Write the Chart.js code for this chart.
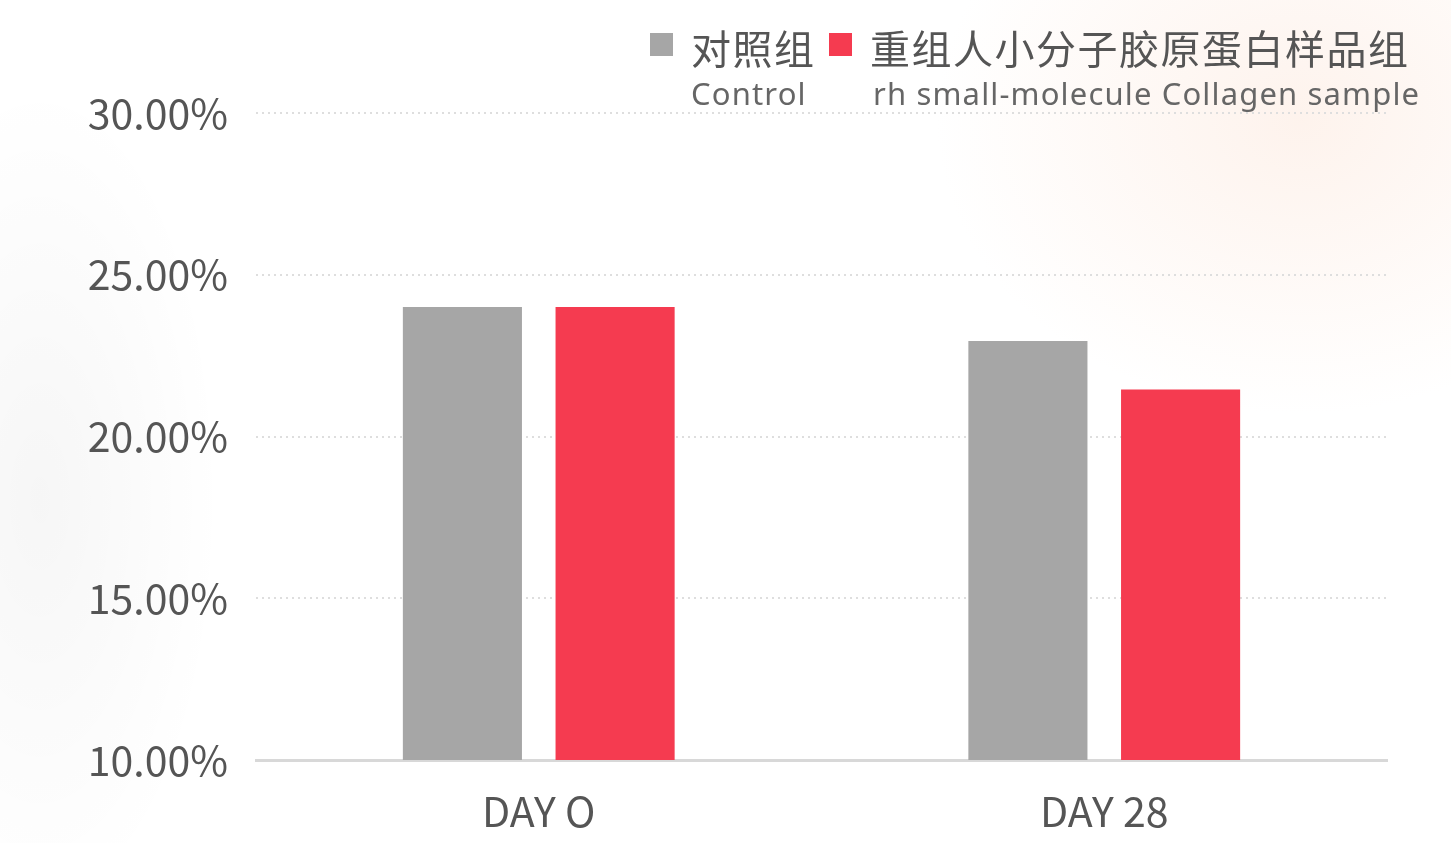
<!DOCTYPE html>
<html>
<head>
<meta charset="utf-8">
<script src="https://cdn.jsdelivr.net/npm/chart.js@4.4.1/dist/chart.umd.min.js"></script>
<style>
  html, body { margin: 0; padding: 0; }
  body {
    width: 1451px; height: 843px; overflow: hidden; position: relative;
    background:
      radial-gradient(ellipse 520px 420px at 1300px 120px, rgba(252, 228, 214, 0.45), rgba(255,255,255,0) 70%),
      radial-gradient(ellipse 260px 600px at 40px 500px, rgba(0, 0, 0, 0.035), rgba(255,255,255,0) 70%),
      #ffffff;
  }
  #wrap { position: absolute; left: 0; top: 0; width: 1451px; height: 843px; }
  .box { position: absolute; width: 23px; height: 23px; top: 33px; }
  .zh { position: absolute; top: 27px; font-family: "Noto Sans CJK SC", sans-serif; font-size: 40px; line-height: 40px; letter-spacing: 1.5px; color: #555; white-space: nowrap; }
  .en { position: absolute; top: 75px; font-family: "Noto Sans", sans-serif; font-size: 31px; line-height: 36px; letter-spacing: 1.15px; color: #666; white-space: nowrap; }
</style>
</head>
<body>
<div id="wrap"><canvas id="myChart"></canvas></div>

<div class="box" style="left:650px;background:#a6a6a6"></div>
<div class="zh" style="left:691px">对照组</div>
<div class="en" style="left:691px">Control</div>
<div class="box" style="left:829px;background:#f53b50"></div>
<div class="zh" style="left:870px">重组人小分子胶原蛋白样品组</div>
<div class="en" style="left:873px">rh small-molecule Collagen sample</div>

<script>
var days = ['DAY O', 'DAY 28'];
var control_values = [24.0, 22.95];
var sample_values = [24.0, 21.45];
var y_ticks_min = 10;
var y_ticks_max = 30;
var y_step = 5;
var barColors = ['#a6a6a6', '#f53b50'];

var chart_image = document.getElementById('myChart');
var collagen_chart = new Chart(chart_image, {
  type: 'bar',
  data: {
    labels: days,
    datasets: [{
      label: '对照组 Control',
      backgroundColor: barColors[0],
      data: control_values
    }, {
      label: '重组人小分子胶原蛋白样品组 rh small-molecule Collagen sample',
      backgroundColor: barColors[1],
      data: sample_values
    }]
  },
  options: {
    responsive: true,
    maintainAspectRatio: false,
    animation: false,
    layout: { padding: { left: 0, right: 64, top: 113, bottom: 0 } },
    datasets: {
      bar: { categoryPercentage: 0.54, barPercentage: 0.78, borderWidth: 0 }
    },
    plugins: {
      legend: { display: false },
      tooltip: { enabled: false }
    },
    scales: {
      x: {
        grid: { display: false, drawTicks: false },
        border: { display: true, color: '#d8d8d8', width: 3 },
        ticks: {
          color: '#555',
          padding: 27,
          font: { family: '"Noto Sans CJK SC", sans-serif', size: 41 }
        },
        afterFit: function (s) { s.height = 843 - 760; }
      },
      y: {
        min: y_ticks_min,
        max: y_ticks_max,
        border: { display: false, dash: [2, 4] },
        grid: {
          drawTicks: false,
          lineWidth: 2,
          color: function (ctx) {
            return ctx.tick && ctx.tick.value === y_ticks_min ? 'rgba(0,0,0,0)' : '#dedede';
          }
        },
        ticks: {
          stepSize: y_step,
          color: '#555',
          padding: 28,
          font: { family: '"Noto Sans CJK SC", sans-serif', size: 41 },
          callback: function (v) { return v.toFixed(2) + '%'; }
        },
        afterFit: function (s) { s.width = 256; }
      }
    }
  }
});
</script>
</body>
</html>
